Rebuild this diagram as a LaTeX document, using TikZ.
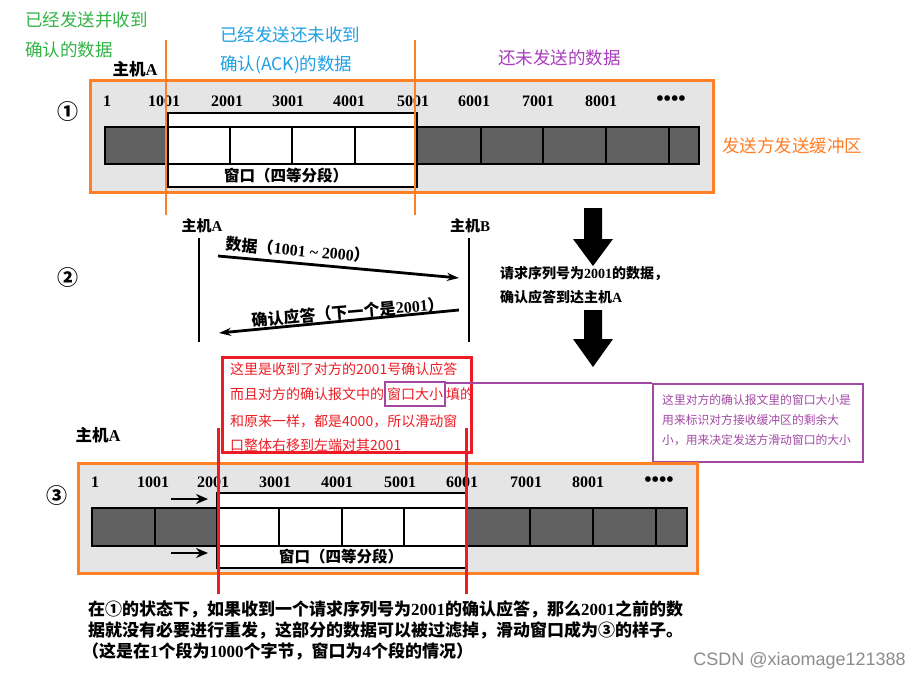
\documentclass[tikz,border=0pt]{standalone}
\usepackage{fontspec}
\setmainfont{Liberation Serif}
\newfontfamily\cjk{Noto Sans CJK SC}
\newfontfamily\wmfont{Liberation Sans}
\usetikzlibrary{arrows.meta}
\definecolor{org}{RGB}{255,127,39}
\definecolor{grn}{RGB}{50,180,70}
\definecolor{blu}{RGB}{30,160,230}
\definecolor{ptx}{RGB}{170,60,190}
\definecolor{pur}{RGB}{163,73,164}
\definecolor{rd}{RGB}{237,28,36}
\definecolor{bgg}{gray}{0.90}
\definecolor{dk}{gray}{0.38}
\newcommand\tn[1]{{\rmfamily\bfseries #1}}
\tikzset{
  ann/.style={font=\cjk\fontsize{17.5}{20}\selectfont, inner sep=0pt, anchor=west},
  num/.style={font=\rmfamily\bfseries\fontsize{16}{18}\selectfont, inner sep=0pt},
  dots/.style={font=\rmfamily\bfseries\fontsize{21}{22}\selectfont, inner sep=0pt},
  scan/.style={font=\cjk\bfseries\fontsize{15}{18}\selectfont, inner sep=0pt},
  circ/.style={font=\cjk\bfseries\fontsize{21}{22}\selectfont, inner sep=0pt},
  obox/.style={draw=org, line width=3pt, fill=bgg},
  darkcell/.style={fill=dk, draw=black, line width=1.6pt},
  wline/.style={draw=black, line width=1.6pt},
  redtxt/.style={font=\cjk\fontsize{14}{16}\selectfont, text=rd, inner sep=0pt, anchor=west},
  seqarrow/.style={line width=2.8pt, -{Stealth[length=12pt,width=8pt]}},
  smallarrow/.style={line width=2.8pt, -{Stealth[length=12pt,width=10pt]}},
}
\begin{document}
\begin{tikzpicture}[x=1pt,y=-1pt]
\useasboundingbox (0,0) rectangle (922,680);
\fill[white] (0,0) rectangle (922,680);

% ---------- annotations top ----------
\node[ann, text=grn] (g1) at (25,20) {已经发送并收到};
\node[ann, text=grn] (g2) at (25,50) {确认的数据};
\node[ann, text=blu] (b1) at (220,35) {已经发送还未收到};
\node[ann, text=blu] (b2) at (220,65) {确认(ACK)的数据};
\node[ann, text=ptx] (p1) at (498,58) {还未发送的数据};
\node[ann, text=org] (o1) at (722,146) {发送方发送缓冲区};

\node[scan, font=\cjk\bfseries\fontsize{16.5}{18}\selectfont] (hA1) at (135,69) {主机\tn{A}};
\node[circ] (c1) at (68,112) {①};

% ---------- buffer 1 ----------
\draw[obox] (90,80) rectangle (713,192);
\draw[darkcell] (105,127) rectangle (168,164);
\foreach \a/\b in {417/481,481/543,543/606,606/669,669/699}
  \draw[darkcell] (\a,127) rectangle (\b,164);
\fill[white] (168,113) rectangle (417,187);
\draw[wline] (168,113) rectangle (417,187);
\draw[wline] (168,127) -- (417,127);
\draw[wline] (168,164) -- (417,164);
\foreach \x in {230,292,355} \draw[wline] (\x,127) -- (\x,164);
\draw[wline] (417,127) -- (699,127);
\draw[wline] (417,164) -- (699,164);
\node[scan, font=\cjk\bfseries\fontsize{15.5}{18}\selectfont] (w1) at (286,176) {窗口（四等分段）};
\foreach \x/\t/\n in {107/1/n1a,164/1001/n1b,227/2001/n1c,288/3001/n1d,349/4001/n1e,413/5001/n1f,474/6001/n1g,538/7001/n1h,601/8001/n1i}
  \node[num] (\n) at (\x,101) {\t};
\node[dots] (d1) at (671,101) {••••};

\draw[org, line width=2pt] (166,40) -- (166,215);
\draw[org, line width=2pt] (415,40) -- (415,215);

% ---------- sequence ----------
\node[circ] (c2) at (68,278) {②};
\node[scan] (hA) at (202,226) {主机\tn{A}};
\node[scan] (hB) at (470,226) {主机\tn{B}};
\coordinate (la0) at (199,238);
\coordinate (la1) at (199,342);
\coordinate (lb0) at (469,238);
\coordinate (lb1) at (469,342);
\draw[line width=2.8pt] (la0) -- (la1);
\draw[line width=2.8pt] (lb0) -- (lb1);
\coordinate (m1s) at (218,256);
\coordinate (m1e) at (459,278);
\coordinate (m2s) at (459,310);
\coordinate (m2e) at (219,333);
\draw[seqarrow] (m1s) -- (m1e);
\draw[seqarrow] (m2s) -- (m2e);
\node[scan, font=\cjk\bfseries\fontsize{16}{18}\selectfont, rotate=-5] (lab1) at (298,250) {数据（\tn{1001 \textasciitilde{} 2000}）};
\node[scan, font=\cjk\bfseries\fontsize{16}{18}\selectfont, rotate=5] (lab2) at (348,312) {确认应答（下一个是\tn{2001}）};

\node[scan, anchor=west, font=\cjk\bfseries\fontsize{14}{18}\selectfont] (req1) at (500,274) {请求序列号为\tn{2001}的数据，};
\node[scan, anchor=west, font=\cjk\bfseries\fontsize{14}{18}\selectfont] (req2) at (500,297) {确认应答到达主机\tn{A}};

\fill (584,208) -- (602,208) -- (602,239) -- (613,239) -- (593,266) -- (573,239) -- (584,239) -- cycle;
\fill (584,310) -- (602,310) -- (602,339) -- (613,339) -- (593,367) -- (573,339) -- (584,339) -- cycle;

% ---------- red note ----------
\draw[rd, line width=3pt] (222,357) rectangle (471,452);
\node[redtxt] (r1) at (230,369) {这里是收到了对方的2001号确认应答};
\node[redtxt] (r2a) at (230,394) {而且对方的确认报文中的};
\node[redtxt, anchor=west, draw=pur, line width=1.5pt, inner sep=2pt, minimum height=24pt] (win) at (r2a.east) {窗口大小};
\node[redtxt] (r2c) at (win.east) {填的};
\node[redtxt] (r3) at (230,421) {和原来一样，都是4000，所以滑动窗};
\node[redtxt] (r4) at (230,445) {口整体右移到左端对其2001};

% ---------- purple note ----------
\node[draw=pur, line width=2pt, minimum width=210pt, minimum height=78pt, inner sep=0pt] (pbox) at (758,423) {};
\node[font=\cjk\fontsize{11.8}{20}\selectfont, text=pur, align=left, inner sep=0pt, anchor=north west] (ptxt) at (662,394) {这里对方的确认报文里的窗口大小是\\用来标识对方接收缓冲区的剩余大\\小，用来决定发送方滑动窗口的大小};
\draw[pur, line width=1.5pt] (win.east |- pbox.north) -- (pbox.north west);

% ---------- buffer 3 ----------
\node[scan, font=\cjk\bfseries\fontsize{16.5}{18}\selectfont] (hA3) at (98,435) {主机\tn{A}};
\node[circ] (c3) at (57,496) {③};
\draw[obox] (78,463) rectangle (697,573);
\draw[darkcell] (92,508) rectangle (155,546);
\draw[darkcell] (155,508) rectangle (217,546);
\foreach \a/\b in {466/530,530/593,593/656,656/687}
  \draw[darkcell] (\a,508) rectangle (\b,546);
\fill[white] (217,493) rectangle (466,568);
\draw[wline] (217,493) rectangle (466,568);
\draw[wline] (217,508) -- (466,508);
\draw[wline] (217,546) -- (466,546);
\foreach \x in {279,342,404} \draw[wline] (\x,508) -- (\x,546);
\node[scan, font=\cjk\bfseries\fontsize{15.5}{18}\selectfont] (w3) at (341,557) {窗口（四等分段）};
\foreach \x/\t/\n in {95/1/n3a,153/1001/n3b,213/2001/n3c,275/3001/n3d,337/4001/n3e,400/5001/n3f,462/6001/n3g,526/7001/n3h,588/8001/n3i}
  \node[num] (\n) at (\x,482) {\t};
\node[dots] (d3) at (659,482) {••••};
\coordinate (sa1) at (171,499);
\coordinate (sa1e) at (208,499);
\coordinate (sa2) at (171,553);
\coordinate (sa2e) at (208,553);
\draw[smallarrow] (sa1) -- (sa1e);
\draw[smallarrow] (sa2) -- (sa2e);

\draw[rd, line width=3pt] (218.5,428) -- (218.5,594);
\draw[rd, line width=3pt] (466.5,428) -- (466.5,594);

% ---------- bottom text ----------
\node[scan, anchor=west, font=\cjk\bfseries\fontsize{17}{18}\selectfont] (t1) at (88,609) {在①的状态下，如果收到一个请求序列号为\tn{2001}的确认应答，那么\tn{2001}之前的数};
\node[scan, anchor=west, font=\cjk\bfseries\fontsize{17}{18}\selectfont] (t2) at (88,630) {据就没有必要进行重发，这部分的数据可以被过滤掉，滑动窗口成为③的样子。};
\node[scan, anchor=west, font=\cjk\bfseries\fontsize{17}{18}\selectfont] (t3) at (82,651) {（这是在\tn{1}个段为\tn{1000}个字节，窗口为\tn{4}个段的情况）};

\node[font=\wmfont\fontsize{18}{20}\selectfont, text=black!45, anchor=east, inner sep=0pt] (wm) at (906,661) {CSDN @xiaomage121388};
\end{tikzpicture}
\end{document}
